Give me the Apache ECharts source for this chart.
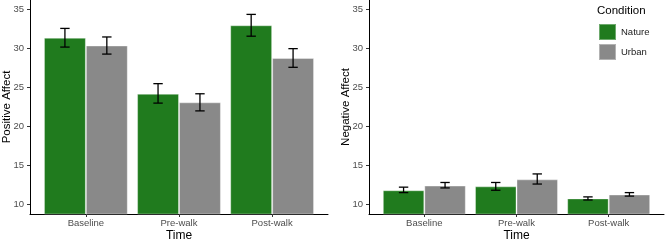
<!DOCTYPE html>
<html>
<head>
<meta charset="utf-8">
<script src="https://cdn.jsdelivr.net/npm/echarts@6/dist/echarts.min.js"></script>
<style>
  html, body { margin: 0; padding: 0; background: #fff; }
  #chart { width: 669px; height: 240px; }
</style>
</head>
<body>
<div id="chart"></div>
<script>
// categories and tick values
var times = ['Baseline', 'Pre-walk', 'Post-walk'];
var yTicks = [10, 15, 20, 25, 30, 35];

// positive affect: means and error bar ends
var posNature = [31.4, 24.2, 33.0];
var posNatureLow = [30.2, 23.0, 31.6];
var posNatureHigh = [32.6, 25.5, 34.4];
var posUrban = [30.4, 23.1, 28.8];
var posUrbanLow = [29.3, 22.0, 27.6];
var posUrbanHigh = [31.5, 24.2, 30.0];

// negative affect
var negNature = [11.8, 12.3, 10.75];
var negNatureLow = [11.5, 11.8, 10.55];
var negNatureHigh = [12.2, 12.8, 10.95];
var negUrban = [12.4, 13.2, 11.25];
var negUrbanLow = [12.1, 12.6, 11.05];
var negUrbanHigh = [12.8, 13.9, 11.5];

var GREEN = '#207b1e';
var GREY = '#898989';
var FONT = 'Liberation Sans, Arial, sans-serif';
var catIdx = times.map(function (t, i) { return i; });

function errData(low, high) {
    return catIdx.map(function (i) { return [i, low[i], high[i]]; });
}

function errRender(side) {
    return function (params, api) {
        var hi = api.coord([api.value(0), api.value(2)]);
        var lo = api.coord([api.value(0), api.value(1)]);
        var band = api.size([1, 0])[0];
        var x = hi[0] + side * band * 0.225;
        var w = 4.7;
        var st = { stroke: '#000', lineWidth: 1.3 };
        return {
            type: 'group',
            children: [
                { type: 'line', shape: { x1: x, y1: hi[1], x2: x, y2: lo[1] }, style: st },
                { type: 'line', shape: { x1: x - w, y1: hi[1], x2: x + w, y2: hi[1] }, style: st },
                { type: 'line', shape: { x1: x - w, y1: lo[1], x2: x + w, y2: lo[1] }, style: st }
            ]
        };
    };
}

// discrete axis drawn as a value axis so it can be padded like ggplot (0.6 each side)
function xAx(idx) {
    return {
        type: 'value',
        gridIndex: idx,
        min: -0.6,
        max: 2.6,
        name: 'Time',
        nameLocation: 'middle',
        nameGap: 16,
        nameMoveOverlap: false,
        nameTextStyle: { fontFamily: FONT, fontSize: 12, color: '#000' },
        splitLine: { show: false },
        axisLine: { onZero: false, lineStyle: { color: '#000', width: 1 } },
        axisTick: { show: true, length: 3, customValues: catIdx, lineStyle: { color: '#333' } },
        axisLabel: {
            margin: 4, customValues: catIdx, fontFamily: FONT, fontSize: 9.5, color: '#4d4d4d',
            formatter: function (v) { return times[Math.round(v)]; }
        }
    };
}

function yAx(idx, name) {
    return {
        type: 'value',
        gridIndex: idx,
        min: 8.75,
        max: 36.25,
        name: name,
        nameLocation: 'middle',
        nameGap: 17,
        nameMoveOverlap: false,
        nameTextStyle: { fontFamily: FONT, fontSize: 11.5, color: '#000' },
        splitLine: { show: false },
        axisLine: { show: true, onZero: false, lineStyle: { color: '#000', width: 1 } },
        axisTick: { show: true, length: 3, customValues: yTicks, lineStyle: { color: '#333' } },
        axisLabel: { margin: 6, customValues: yTicks, fontFamily: FONT, fontSize: 9.5, color: '#4d4d4d' }
    };
}

function bar(name, vals, color, idx) {
    return {
        name: name,
        type: 'bar',
        xAxisIndex: idx,
        yAxisIndex: idx,
        data: catIdx.map(function (i) { return [i, vals[i]]; }),
        barGap: '0%',
        barCategoryGap: '10%',
        itemStyle: { color: color, borderColor: 'rgba(255,255,255,0.35)', borderWidth: 1 }
    };
}

function err(low, high, side, idx) {
    return {
        type: 'custom',
        xAxisIndex: idx,
        yAxisIndex: idx,
        data: errData(low, high),
        encode: { x: 0, y: [1, 2] },
        renderItem: errRender(side),
        z: 5,
        silent: true
    };
}

var chart = echarts.init(document.getElementById('chart'));
chart.setOption({
    animation: false,
    backgroundColor: '#fff',
    title: {
        text: 'Condition',
        left: 597,
        top: 5,
        padding: 0,
        textStyle: { fontFamily: FONT, fontSize: 11.5, fontWeight: 'normal', color: '#000' }
    },
    legend: {
        data: ['Nature', 'Urban'],
        orient: 'vertical',
        left: 598,
        top: 23,
        padding: 0,
        itemWidth: 17,
        itemHeight: 16,
        itemGap: 2,
        icon: 'rect',
        textStyle: { fontFamily: FONT, fontSize: 9.5, color: '#1a1a1a' }
    },
    grid: [
        { left: 30, right: 341, top: 0, bottom: 26, outerBoundsMode: 'none' },
        { left: 369, right: 5, top: 0, bottom: 26, outerBoundsMode: 'none' }
    ],
    xAxis: [xAx(0), xAx(1)],
    yAxis: [yAx(0, 'Positive Affect'), yAx(1, 'Negative Affect')],
    series: [
        bar('Nature', posNature, GREEN, 0),
        bar('Urban', posUrban, GREY, 0),
        bar('Nature', negNature, GREEN, 1),
        bar('Urban', negUrban, GREY, 1),
        err(posNatureLow, posNatureHigh, -1, 0),
        err(posUrbanLow, posUrbanHigh, 1, 0),
        err(negNatureLow, negNatureHigh, -1, 1),
        err(negUrbanLow, negUrbanHigh, 1, 1)
    ]
});
</script>
</body>
</html>
